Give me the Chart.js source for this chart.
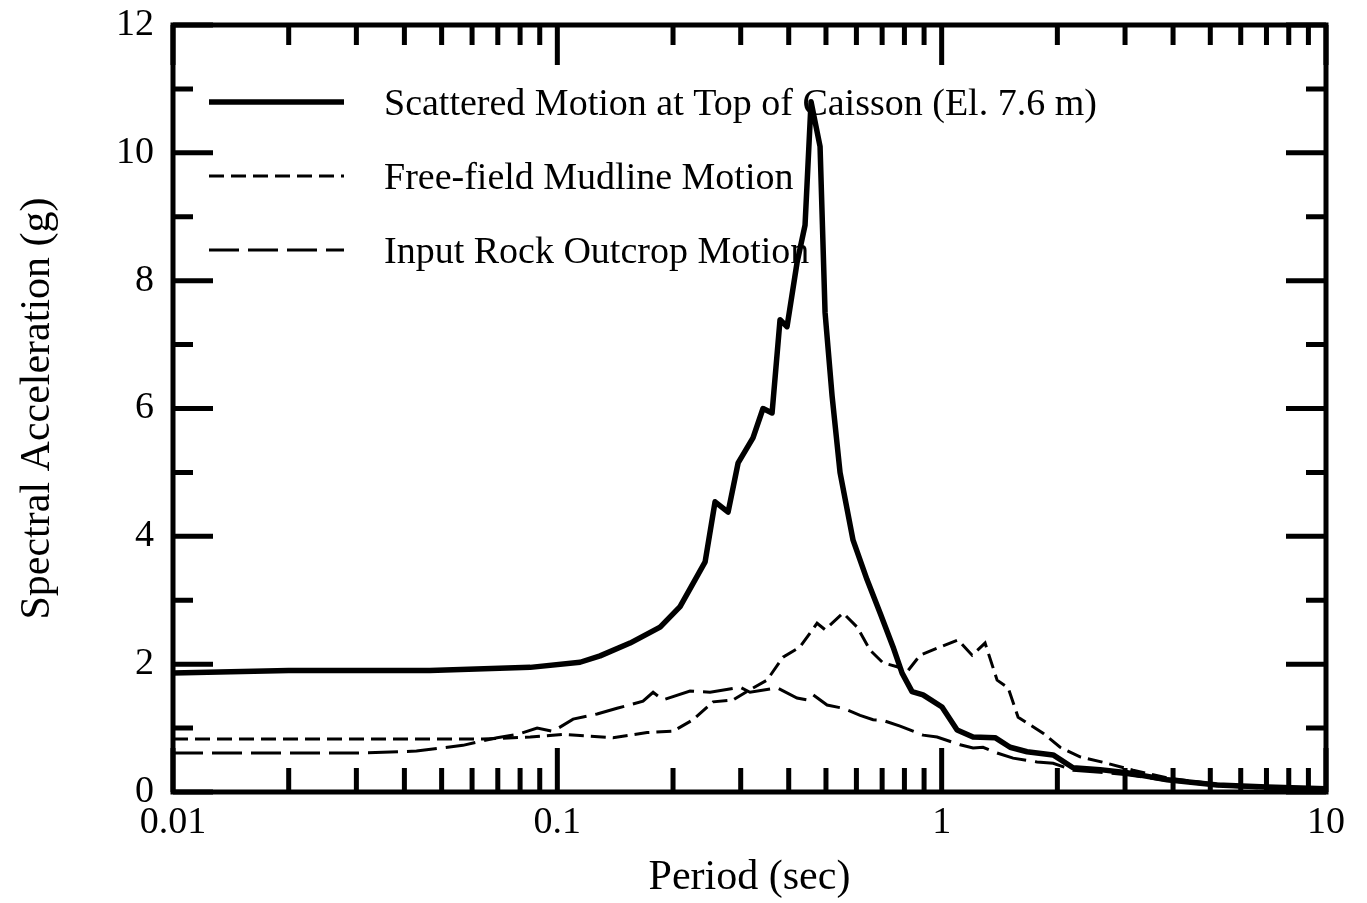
<!DOCTYPE html>
<html>
<head>
<meta charset="utf-8">
<script src="https://cdn.jsdelivr.net/npm/chart.js@4.4.1/dist/chart.umd.min.js"></script>
<style>
  body { margin: 0; background: #fff; }
  #wrap { width: 1367px; height: 903px; }
</style>
</head>
<body>
<div id="wrap"><canvas id="espectro"></canvas></div>
<script>
// Periodos (s) y aceleraciones espectrales (g)
const periodoCajon = [0.01, 0.02, 0.03, 0.0466, 0.085, 0.1146, 0.1292, 0.1546, 0.1851, 0.2086, 0.2282, 0.2424, 0.2573, 0.2782, 0.2954, 0.3229, 0.3429, 0.362, 0.3797, 0.396, 0.4204, 0.4411, 0.4573, 0.4826, 0.4973, 0.5186, 0.544, 0.5881, 0.6397, 0.6915, 0.7474, 0.7889, 0.8375, 0.8945, 1.002, 1.097, 1.207, 1.377, 1.507, 1.668, 1.95, 2.197, 2.584, 3.037, 3.86, 5.21, 7.03, 10];
const saCajon = [1.86, 1.9, 1.9, 1.9, 1.95, 2.03, 2.13, 2.33, 2.58, 2.9, 3.32, 3.6, 4.54, 4.38, 5.15, 5.54, 6.0, 5.93, 7.39, 7.28, 8.28, 8.87, 10.8, 10.1, 7.5, 6.2, 5.0, 3.94, 3.32, 2.8, 2.27, 1.86, 1.57, 1.52, 1.33, 0.97, 0.86, 0.85, 0.70, 0.63, 0.58, 0.38, 0.35, 0.30, 0.19, 0.11, 0.08, 0.05];

const periodoLodo = [0.01, 0.02, 0.039, 0.064, 0.085, 0.1035, 0.1396, 0.1712, 0.2, 0.2255, 0.2543, 0.2867, 0.3172, 0.3512, 0.3866, 0.4281, 0.474, 0.4973, 0.5539, 0.6026, 0.6513, 0.704, 0.7656, 0.8128, 0.8785, 0.9728, 1.103, 1.2, 1.297, 1.394, 1.489, 1.581, 1.836, 2.033, 2.291, 2.694, 3.148, 3.86, 5.21, 7.03, 10];
const saLodo = [0.83, 0.83, 0.83, 0.83, 0.86, 0.9, 0.85, 0.93, 0.95, 1.13, 1.41, 1.44, 1.6, 1.75, 2.11, 2.27, 2.64, 2.54, 2.8, 2.58, 2.22, 2.02, 1.96, 1.88, 2.14, 2.25, 2.38, 2.14, 2.33, 1.75, 1.63, 1.17, 0.92, 0.7, 0.55, 0.45, 0.34, 0.22, 0.12, 0.07, 0.04];

const periodoRoca = [0.01, 0.02, 0.03, 0.043, 0.0568, 0.0697, 0.0786, 0.0886, 0.0975, 0.1099, 0.1269, 0.143, 0.1671, 0.1775, 0.1884, 0.2214, 0.2497, 0.2989, 0.3172, 0.373, 0.4204, 0.4464, 0.4628, 0.5033, 0.5539, 0.6135, 0.6631, 0.704, 0.7796, 0.8945, 0.9728, 1.117, 1.207, 1.281, 1.394, 1.534, 1.771, 1.95, 2.197, 2.584, 3.037, 3.86, 5.21, 7.03, 10];
const saRoca = [0.61, 0.61, 0.61, 0.64, 0.73, 0.85, 0.9, 1.0, 0.95, 1.14, 1.22, 1.31, 1.42, 1.56, 1.44, 1.58, 1.56, 1.64, 1.56, 1.63, 1.47, 1.44, 1.52, 1.36, 1.31, 1.2, 1.13, 1.12, 1.03, 0.89, 0.86, 0.74, 0.69, 0.70, 0.61, 0.53, 0.47, 0.45, 0.34, 0.31, 0.27, 0.18, 0.1, 0.06, 0.04];

const etiquetas = [
  "Scattered Motion at Top of Caisson (El. 7.6 m)",
  "Free-field Mudline Motion",
  "Input Rock Outcrop Motion"
];
const ticksPeriodo = [0.01, 0.1, 1, 10];

const fuente = '"Liberation Serif", "Times New Roman", serif';

function puntos(xs, ys) {
  return xs.map((x, i) => ({ x: x, y: ys[i] }));
}

// Marco del grafico con marcas hacia dentro
const marcoPlugin = {
  id: "marco",
  afterDatasetsDraw(chart) {
    const { ctx, chartArea: a, scales } = chart;
    const sx = scales.x, sy = scales.y;
    ctx.save();
    ctx.strokeStyle = "#000";
    ctx.lineWidth = 5;
    ctx.beginPath();
    for (let p = -2; p <= 0; p++) {
      for (let k = 1; k <= 10; k++) {
        const v = k * Math.pow(10, p);
        const px = sx.getPixelForValue(v);
        const mayor = (k === 1 || k === 10);
        const lb = mayor ? 44 : 24;
        const lt = mayor ? 40 : 20;
        ctx.moveTo(px, a.bottom); ctx.lineTo(px, a.bottom - lb);
        ctx.moveTo(px, a.top); ctx.lineTo(px, a.top + lt);
      }
    }
    for (let v = 0; v <= 12; v++) {
      const py = sy.getPixelForValue(v);
      const l = (v % 2 === 0) ? 40 : 20;
      ctx.moveTo(a.left, py); ctx.lineTo(a.left + l, py);
      ctx.moveTo(a.right, py); ctx.lineTo(a.right - l, py);
    }
    ctx.stroke();
    ctx.strokeRect(a.left, a.top, a.right - a.left, a.bottom - a.top);
    ctx.restore();
  }
};

// Leyenda dibujada dentro del area, bajo las curvas
const leyendaPlugin = {
  id: "leyenda",
  beforeDatasetsDraw(chart) {
    const ctx = chart.ctx;
    chart.data.datasets.forEach((ds, i) => {
      const y = 102 + i * 74;
      ctx.save();
      ctx.strokeStyle = "#000";
      ctx.lineWidth = ds.borderWidth;
      ctx.setLineDash(ds.borderDash || []);
      ctx.beginPath();
      ctx.moveTo(209, y);
      ctx.lineTo(344, y);
      ctx.stroke();
      ctx.setLineDash([]);
      ctx.fillStyle = "#000";
      ctx.font = "38px " + fuente;
      ctx.textBaseline = "alphabetic";
      ctx.fillText(ds.label, 384, y + 13);
      ctx.restore();
    });
  }
};

const ctx = document.getElementById("espectro");
new Chart(ctx, {
  type: "line",
  data: {
    datasets: [
      {
        label: etiquetas[0],
        data: puntos(periodoCajon, saCajon),
        borderColor: "#000",
        borderWidth: 5.5,
        borderJoinStyle: "round",
        pointRadius: 0,
        tension: 0,
      },
      {
        label: etiquetas[1],
        data: puntos(periodoLodo, saLodo),
        borderColor: "#000",
        borderWidth: 3,
        borderDash: [15, 7],
        pointRadius: 0,
        tension: 0,
      },
      {
        label: etiquetas[2],
        data: puntos(periodoRoca, saRoca),
        borderColor: "#000",
        borderWidth: 3,
        borderDash: [30, 9],
        pointRadius: 0,
        tension: 0,
      },
    ],
  },
  options: {
    responsive: true,
    maintainAspectRatio: false,
    animation: false,
    layout: { padding: { left: 0, top: 25, right: 41, bottom: 0 } },
    plugins: {
      legend: { display: false },
      tooltip: { enabled: false },
    },
    scales: {
      x: {
        type: "logarithmic",
        min: 0.01,
        max: 10,
        afterBuildTicks: (scale) => {
          scale.ticks = ticksPeriodo.map((v) => ({ value: v }));
        },
        afterFit: (scale) => {
          scale.height = 111;
          scale.paddingLeft = 0;
          scale.paddingRight = 0;
        },
        grid: { display: false, drawTicks: false },
        border: { display: false },
        ticks: {
          autoSkip: false,
          maxRotation: 0,
          padding: 8,
          color: "#000",
          font: { family: fuente, size: 38 },
          callback: (v) => String(v),
        },
        title: {
          display: true,
          text: "Period (sec)",
          color: "#000",
          font: { family: fuente, size: 42 },
          padding: { top: 0, bottom: 0 },
        },
      },
      y: {
        min: 0,
        max: 12,
        afterFit: (scale) => {
          scale.width = 173;
          scale.paddingTop = 0;
          scale.paddingBottom = 0;
        },
        grid: { display: false, drawTicks: false },
        border: { display: false },
        ticks: {
          stepSize: 2,
          padding: 19,
          color: "#000",
          font: { family: fuente, size: 38 },
        },
        title: {
          display: true,
          text: "Spectral Acceleration (g)",
          color: "#000",
          font: { family: fuente, size: 42 },
          padding: { top: 13, bottom: 0 },
        },
      },
    },
  },
  plugins: [leyendaPlugin, marcoPlugin],
});
</script>
</body>
</html>
